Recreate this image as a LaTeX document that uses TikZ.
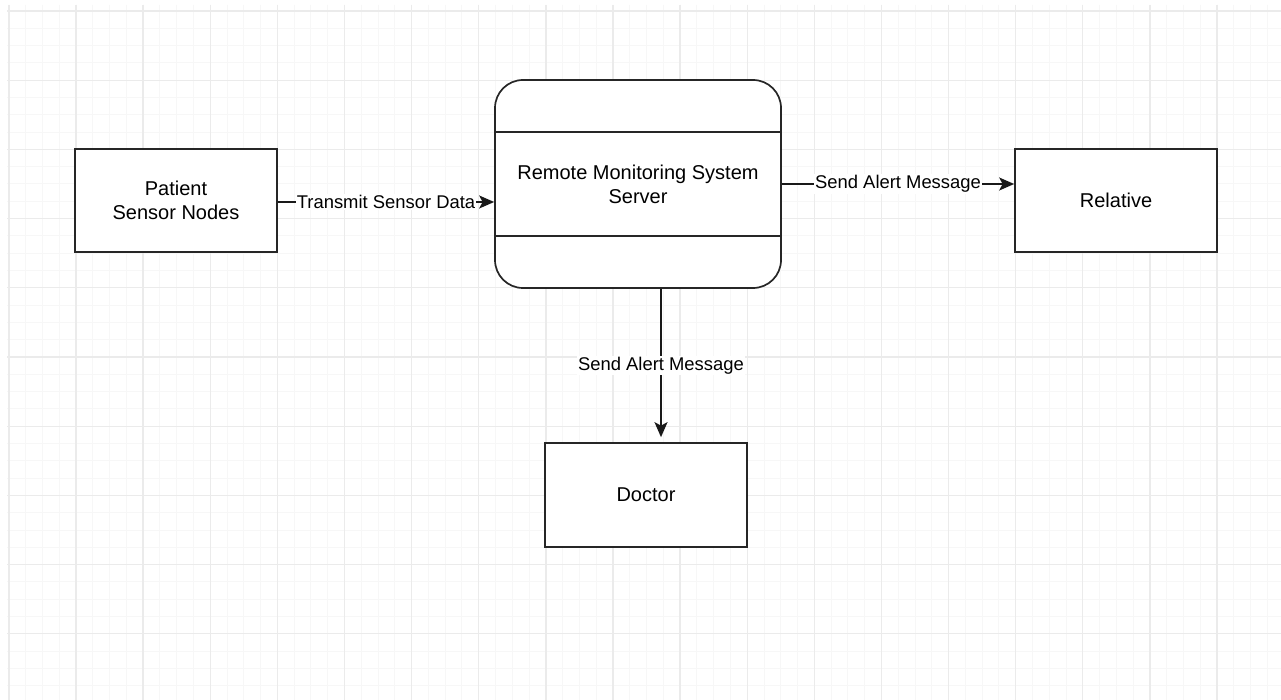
\documentclass[tikz,border=0pt]{standalone}
\usepackage{fontspec}
\setmainfont{Liberation Sans}
\usetikzlibrary{arrows.meta}
\definecolor{gridminor}{HTML}{F7F7F7}
\definecolor{gridmajor}{HTML}{EBEBEB}
\tikzset{
  minorline/.style={draw=gridminor, line width=1pt},
  majorline/.style={draw=gridmajor, line width=1.3pt},
  block/.style={draw=black!85, line width=1.7pt, fill=white, align=center,
    font=\fontsize{20}{24}\selectfont, inner sep=0pt},
  flow/.style={draw=black!90, line width=1.6pt,
    -{Stealth[length=15pt, width=13pt, inset=3.5pt]}},
  flowlabel/.style={fill=white, inner sep=1pt,
    font=\fontsize{18.4}{22}\selectfont}
}
\begin{document}
\begin{tikzpicture}[x=1pt, y=-1pt]
  \useasboundingbox (0,0) rectangle (1281,700);
  \fill[white] (0,0) rectangle (1281,700);

  % background grid: four minor cells per major cell
  \begin{scope}
    \clip (7,5) rectangle (1281,700);
    \foreach \i in {0,...,76} {
      \pgfmathsetmacro{\gx}{8.9+16.78*\i}
      \draw[minorline] (\gx,5) -- (\gx,700);
    }
    \foreach \j in {0,...,40} {
      \pgfmathsetmacro{\gy}{11+17.3*\j}
      \draw[minorline] (7,\gy) -- (1281,\gy);
    }
    \foreach \i in {0,...,19} {
      \pgfmathsetmacro{\gx}{8.9+67.12*\i}
      \draw[majorline] (\gx,5) -- (\gx,700);
    }
    \foreach \j in {0,...,10} {
      \pgfmathsetmacro{\gy}{11+69.2*\j}
      \draw[majorline] (7,\gy) -- (1281,\gy);
    }
  \end{scope}

  % entities
  \node[block, minimum width=202pt, minimum height=103pt] (patient)
    at (176,200.5) {Patient\\Sensor Nodes};
  \node[block, minimum width=286pt, minimum height=208pt, rounded corners=28pt]
    (server) at (638,184) {Remote Monitoring System\\Server};
  \node[block, minimum width=202pt, minimum height=103pt] (relative)
    at (1116,200.5) {Relative};
  \node[block, minimum width=202pt, minimum height=104pt] (doctor)
    at (646,495) {Doctor};

  % compartment dividers of the server box
  \draw[draw=black!85, line width=1.7pt]
    ([yshift=52pt]server.west) -- ([yshift=52pt]server.east);
  \draw[draw=black!85, line width=1.7pt]
    ([yshift=-52pt]server.west) -- ([yshift=-52pt]server.east);

  % data flows
  \draw[flow] ([yshift=-1.5pt]patient.east)
    -- ([yshift=-1.5pt]patient.east -| server.west)
    node[flowlabel, midway] (lbltransmit) {Transmit Sensor Data};
  \draw[flow] (server.east) -- (server.east -| relative.west)
    node[flowlabel, midway] (lblrelative) {Send Alert Message};
  \draw[flow, shorten >=5pt] ([xshift=23pt]server.south)
    -- ([xshift=23pt]server.south |- doctor.north)
    node[flowlabel, midway] (lbldoctor) {Send Alert Message};
\end{tikzpicture}
\end{document}
